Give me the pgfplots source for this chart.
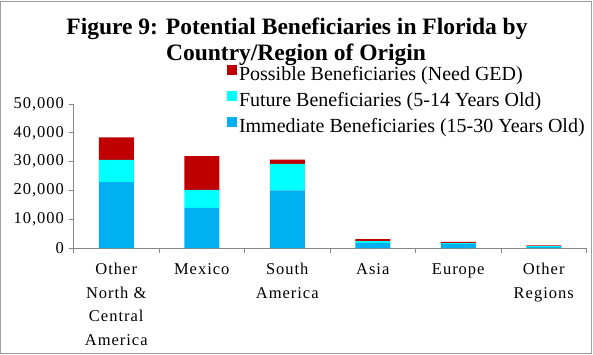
\documentclass[border=0pt]{standalone}
\usepackage{pgfplots}
\pgfplotsset{compat=1.18}
\usepackage{fontspec}
\setmainfont{Liberation Serif}
\newfontfamily\spaced{Liberation Serif}[LetterSpace=6]
\definecolor{immed}{HTML}{00B0F0}
\definecolor{future}{HTML}{00FFFF}
\definecolor{possible}{HTML}{C00000}
\definecolor{axisgray}{HTML}{868686}
\begin{document}
\begin{tikzpicture}[x=1pt,y=1pt]
\useasboundingbox (0,0) rectangle (593,354);
\draw[axisgray!80, line width=1pt] (0.5,0.5) rectangle (591,352.5);
\node[anchor=base, font=\bfseries\fontsize{23.5}{26}\selectfont, inner sep=0pt] at (297,319) {Figure 9: Potential Beneficiaries in Florida by};
\node[anchor=base, font=\bfseries\fontsize{23.5}{26}\selectfont, inner sep=0pt] at (296,293) {Country/Region of Origin};
\begin{axis}[
  at={(73.5pt,106pt)}, anchor=south west,
  width=513pt, height=144pt, scale only axis,
  xmin=-0.5, xmax=5.5, ymin=0, ymax=50000,
  ybar stacked, bar width=35pt,
  axis x line*=bottom, axis y line*=left,
  axis line style={draw=axisgray, line width=0.8pt},
  ytick={0,10000,20000,30000,40000,50000},
  scaled y ticks=false,
  /pgf/number format/.cd, fixed, 1000 sep={,}, assume math mode=true, /pgfplots/.cd,
  xtick={0,1,2,3,4,5},
  xticklabels={{Other\\North \&\\Central\\America}, Mexico, {South\\America}, Asia, Europe, {Other\\Regions}},
  minor xtick={-0.5,0.5,1.5,2.5,3.5,4.5,5.5},
  tick align=outside,
  major tick length=5pt, minor tick length=5pt,
  tick style={draw=axisgray, line width=0.8pt},
  major x tick style={draw=none},
  ticklabel style={font=\spaced\fontsize{16.5}{23.5}\selectfont},
  xticklabel style={align=center, anchor=north, yshift=-7pt},
  yticklabel style={xshift=-1pt},
  legend style={at={(0.293,1.29)}, anchor=north west, draw=none, fill=none,
    font=\fontsize{20}{22}\selectfont, row sep=6.5pt},
  legend cell align=left,
  reverse legend,
  legend image code/.code={\fill[#1] (0pt,-1pt) rectangle (10pt,9pt);},
]
\addplot[fill=immed, draw=none] coordinates {(0,22900) (1,13900) (2,20000) (3,1800) (4,1400) (5,400)};
\addplot[fill=future, draw=none] coordinates {(0,7700) (1,6300) (2,9200) (3,600) (4,300) (5,250)};
\addplot[fill=possible, draw=none] coordinates {(0,7800) (1,11700) (2,1500) (3,700) (4,400) (5,300)};
\legend{Immediate Beneficiaries (15-30 Years Old), Future Beneficiaries (5-14 Years Old), Possible Beneficiaries (Need GED)}
\end{axis}
\end{tikzpicture}
\end{document}
